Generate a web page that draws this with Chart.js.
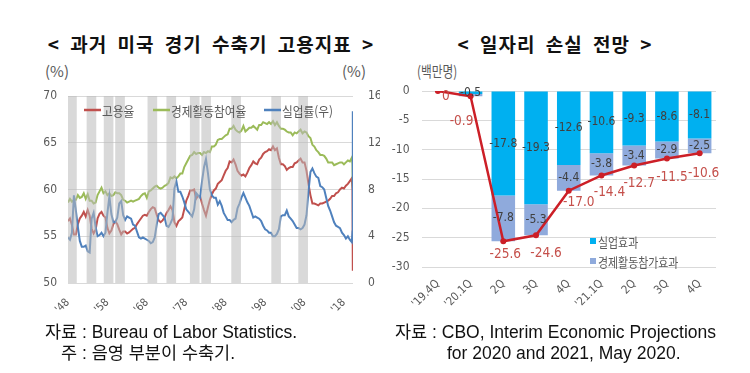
<!DOCTYPE html>
<html><head><meta charset="utf-8">
<script src="https://cdn.jsdelivr.net/npm/chart.js@4"></script>
<style>
body{margin:0;width:750px;height:373px;background:#fff;position:relative;overflow:hidden;font-family:'Noto Sans CJK KR',sans-serif;}
.t{position:absolute;white-space:nowrap;}
.title{font-weight:700;font-size:19px;color:#111;text-align:center;top:31px;line-height:26px;word-spacing:5px;letter-spacing:1px;}
.unit{font-size:15px;color:#595959;top:61px;line-height:20px;}
.note{font-size:17.5px;color:#111;line-height:20px;font-family:'Liberation Sans','Noto Sans CJK KR',sans-serif;}
canvas{position:absolute;top:80px;}
</style></head><body>
<div class="t title" style="left:0;width:422px">&lt; 과거 미국 경기 수축기 고용지표 &gt;</div>
<div class="t title" style="left:380px;width:350px">&lt; 일자리 손실 전망 &gt;</div>
<div class="t unit" style="left:45px">(%)</div>
<div class="t unit" style="left:342px">(%)</div>
<div class="t unit" style="left:417px;transform:scaleX(0.78);transform-origin:left">(백만명)</div>
<canvas id="c1" width="380" height="245" style="left:0"></canvas>
<canvas id="c2" width="370" height="245" style="left:380px"></canvas>
<div class="t note" style="left:45px;top:322px">자료 : Bureau of Labor Statistics.</div>
<div class="t note" style="left:61px;top:343px">주 : 음영 부분이 수축기.</div>
<div class="t note" style="left:395px;top:322px">자료 : CBO, Interim Economic Projections</div>
<div class="t note" style="left:447px;top:343px">for 2020 and 2021, May 2020.</div>
<script>
// ---------- Left chart data (semi-annual, 1948H1 .. 2020H1, then Mar & Apr 2020) ----------
const empRate = [
56.6,56.9, 56.2,55.2, 55.2,56.3, 56.9,57.2, 57.6,57.1, 57.8,57.2, 55.8,55.3, 55.7,56.9, 57.4,57.6, 57.2,57.0,
55.9,55.3, 55.6,56.3, 56.6,56.3, 55.7,55.2, 55.5,55.5, 55.3,55.4, 55.6,55.8, 55.9,56.3, 56.6,56.9, 57.2,57.3,
57.2,57.6, 57.9,58.1, 58.0,57.3, 56.7,56.5, 56.7,57.0, 57.5,57.8, 58.2,57.8, 56.5,56.1, 56.6,56.8, 57.0,57.9,
58.8,59.3, 59.9,59.9, 60.0,59.0, 59.3,59.3, 58.5,57.8, 57.2,58.1, 58.9,59.5, 59.9,60.1, 60.6,60.8, 61.0,61.5,
62.0,62.3, 63.0,62.9, 63.2,62.7, 62.0,61.7, 61.5,61.6, 61.4,61.8, 62.3,62.6, 63.0,62.8, 62.7,63.2, 63.4,63.8,
64.0,64.1, 64.3,64.2, 64.6,64.2, 64.4,63.4, 62.7,62.7, 62.5,62.1, 62.3,62.4, 62.4,62.8, 62.9,63.1, 63.3,62.9,
62.9,62.0, 60.6,59.4, 58.5,58.5, 58.4,58.3, 58.5,58.5, 58.6,58.7, 58.8,59.0, 59.3,59.3, 59.6,59.7, 60.0,60.2,
60.1,60.4, 60.6,60.9, 61.2, 60.0, 51.3];
const partRate = [
58.6,59.0, 58.7,58.9, 58.9,59.4, 59.1,59.2, 59.6,59.0, 59.5,58.8, 58.8,58.5, 58.6,59.4, 59.8,60.2, 59.6,59.8,
59.4,59.6, 59.3,59.4, 59.7,59.6, 59.6,59.4, 58.9,58.8, 58.6,58.7, 58.8,58.7, 58.8,58.9, 59.0,59.3, 59.5,59.6,
59.1,59.8, 59.9,60.1, 60.3,60.4, 60.2,60.1, 60.2,60.4, 60.5,60.7, 61.3,61.2, 61.4,61.2, 61.4,61.7, 61.7,62.4,
62.8,63.2, 63.6,63.7, 64.0,63.8, 63.9,63.9, 63.7,64.0, 63.9,64.1, 64.0,64.6, 64.6,64.8, 65.3,65.4, 65.4,65.6,
65.8,65.9, 66.5,66.5, 66.8,66.4, 66.2,66.1, 66.3,66.8, 66.2,66.4, 66.6,66.6, 66.8,66.6, 66.4,66.9, 66.9,67.2,
67.1,67.0, 67.2,67.0, 67.3,66.9, 67.2,66.8, 66.5,66.5, 66.4,66.2, 66.1,66.1, 65.8,66.1, 66.0,66.2, 66.4,66.0,
66.2,66.1, 65.7,65.5, 64.8,64.6, 64.2,64.0, 63.7,63.7, 63.6,63.3, 62.9,62.9, 62.9,62.6, 62.7,62.8, 62.9,62.9,
62.7,62.9, 63.1,63.0, 63.4, 62.7, 60.2];
const unempRate = [
3.9,3.7, 4.3,7.5, 6.2,4.8, 3.6,3.1, 3.1,3.2, 2.7,2.6, 5.5,6.0, 4.8,4.0, 4.1,4.3, 4.0,4.3,
6.0,7.4, 5.9,5.2, 5.2,5.6, 6.8,7.0, 5.8,5.4, 5.7,5.6, 5.5,5.0, 4.9,4.4, 3.9,3.8, 3.9,3.8,
3.7,3.6, 3.4,3.5, 3.9,5.0, 5.9,6.0, 5.8,5.6, 4.9,4.8, 5.1,5.5, 8.1,8.7, 7.8,7.8, 7.4,6.9,
6.3,6.1, 5.9,5.7, 6.3,7.7, 7.5,7.3, 8.7,9.9, 10.6,9.4, 8.0,7.5, 7.3,7.3, 6.7,7.0, 6.6,6.0,
5.7,5.4, 5.4,5.2, 5.4,5.5, 6.4,6.8, 7.3,7.7, 7.3,6.9, 6.6,6.1, 5.6,5.7, 5.6,5.5, 5.3,4.9,
4.6,4.5, 4.3,4.3, 4.0,4.0, 4.2,4.6, 5.7,5.8, 5.8,6.2, 5.7,5.5, 5.3,5.0, 4.7,4.7, 4.6,4.7,
5.0,5.8, 7.8,9.5, 9.8,9.4, 9.1,9.0, 8.3,8.2, 8.0,7.3, 6.6,6.2, 5.7,5.2, 4.9,4.8, 4.7,4.3,
4.1,3.8, 4.0,3.7, 3.5, 4.4, 14.7];
// time index: half years 1948.0 .. 2020.0, then March and April 2020
const periods = [];
for (let k = 0; k <= 144; k++) periods.push(1948 + k / 2);
periods.push(2020 + 2 / 12, 2020 + 3 / 12);
// recession shading (centre year of each shaded band)
const recessions = [1949.0, 1953.95, 1958.3, 1961.2, 1969.4, 1974.2, 1980.15, 1983.05, 1990.65, 2000.8, 2007.65];
const xTickYears = [1948, 1958, 1968, 1978, 1988, 1998, 2008, 2018];
const leftNames = ['고용율', '경제활동참여율', '실업률(우)'];

// ---------- Right chart data ----------
const quarters = ["'19.4Q", "'20.1Q", "2Q", "3Q", "4Q", "'21.1Q", "2Q", "3Q", "4Q"];
const unempEffect = [0, -0.5, -17.8, -19.3, -12.6, -10.6, -9.3, -8.6, -8.1];
const partEffect = [0, -0.4, -7.8, -5.3, -4.4, -3.8, -3.4, -2.9, -2.5];
const totalLoss = [0, -0.9, -25.6, -24.6, -17.0, -14.4, -12.7, -11.5, -10.6];
const rightNames = ['실업효과', '경제활동참가효과', '합계'];

const NARROW = "'DejaVu Sans Condensed','Liberation Sans',sans-serif";
const GREY = '#595959';

const pts = arr => periods.map((p, i) => ({ x: p, y: arr[i] }));
const noVPad = s => { s.paddingTop = 0; s.paddingBottom = 0; };

const leftLegend = {
  id: 'leftLegend',
  afterDatasetsDraw(chart, args, o) {
    const ctx = chart.ctx; ctx.save();
    ctx.font = o.font; ctx.textBaseline = 'middle';
    o.items.forEach(it => {
      const ds = chart.data.datasets[it.ds];
      ctx.strokeStyle = ds.borderColor; ctx.lineWidth = 2.5;
      ctx.beginPath(); ctx.moveTo(it.x, o.y); ctx.lineTo(it.x + o.lineLen, o.y); ctx.stroke();
      ctx.fillStyle = o.color;
      ctx.save(); ctx.translate(it.x + o.lineLen + 1, o.y + 1); ctx.scale(o.sx, 1);
      ctx.fillText(ds.label, 0, 0); ctx.restore();
    });
    ctx.restore();
  }
};

new Chart(document.getElementById('c1'), {
  type: 'line',
  data: {
    datasets: [
      { type: 'bar', label: 'recession', data: recessions.map(r => ({ x: r, y: [50, 70] })),
        backgroundColor: 'rgba(185,185,185,0.55)', barThickness: 9, yAxisID: 'y', order: 0 },
      { label: leftNames[2], data: pts(unempRate), yAxisID: 'y1', borderColor: '#4f81bd', backgroundColor: '#4f81bd',
        borderWidth: 2, pointRadius: 0, tension: 0, order: 1 },
      { label: leftNames[1], data: pts(partRate), yAxisID: 'y', borderColor: '#9bbb59', backgroundColor: '#9bbb59',
        borderWidth: 2, pointRadius: 0, tension: 0, order: 2 },
      { label: leftNames[0], data: pts(empRate), yAxisID: 'y', borderColor: '#c0504d', backgroundColor: '#c0504d',
        borderWidth: 2, pointRadius: 0, tension: 0, order: 3 }
    ]
  },
  options: {
    responsive: false, animation: false, devicePixelRatio: 1,
    layout: { padding: { top: 16, left: 0, right: 0, bottom: 0 } },
    plugins: {
      legend: { display: false }, tooltip: { enabled: false },
      leftLegend: { y: 30, lineLen: 17, font: "13px 'Noto Sans CJK KR'", color: GREY, sx: 0.9,
        items: [{ ds: 3, x: 84 }, { ds: 2, x: 153 }, { ds: 1, x: 264 }] }
    },
    scales: {
      x: { type: 'linear', min: 1948, max: 2020.3, offset: false,
        afterBuildTicks: s => { s.ticks = xTickYears.map(v => ({ value: v })); },
        afterFit: s => { s.height = 42; },
        ticks: { autoSkip: false, minRotation: 45, maxRotation: 45, padding: 5, color: GREY,
          font: { family: NARROW, size: 11 }, callback: v => "'" + String(v).slice(2) },
        grid: { display: false }, border: { display: false } },
      y: { position: 'left', min: 50, max: 70,
        afterFit: s => { s.width = 68; noVPad(s); },
        ticks: { stepSize: 5, padding: 11, color: GREY, font: { family: NARROW, size: 12 } },
        grid: { color: '#d9d9d9', drawTicks: false }, border: { display: false } },
      y1: { position: 'right', min: 0, max: 16,
        afterFit: s => { s.width = 27; noVPad(s); },
        ticks: { stepSize: 4, padding: 7, color: GREY, font: { family: NARROW, size: 12 } },
        grid: { display: false }, border: { display: false } }
    }
  },
  plugins: [leftLegend]
});

const rightDeco = {
  id: 'rightDeco',
  afterDatasetsDraw(chart, args, o) {
    const ctx = chart.ctx; ctx.save();
    ctx.textAlign = 'center'; ctx.textBaseline = 'middle';
    // bar labels
    ctx.font = o.barFont; ctx.fillStyle = o.barColor;
    [0, 1].forEach(di => {
      const ds = chart.data.datasets[di];
      chart.getDatasetMeta(di).data.forEach((el, i) => {
        const v = ds.data[i];
        if (Math.abs(v) < 0.5) return;
        const p = el.getProps(['x', 'y', 'base'], true);
        ctx.fillText(v.toFixed(1), p.x, (p.y + p.base) / 2);
      });
    });
    // total line labels
    ctx.font = o.lineFont; ctx.fillStyle = o.lineColor;
    const ds = chart.data.datasets[2];
    chart.getDatasetMeta(2).data.forEach((el, i) => {
      const v = ds.data[i];
      const off = o.offsets[i];
      ctx.fillText(v === 0 ? '0' : v.toFixed(1), el.x + off[0], el.y + off[1]);
    });
    // legend
    ctx.textAlign = 'left';
    o.legend.forEach(it => {
      const d = chart.data.datasets[it.ds];
      ctx.fillStyle = d.backgroundColor;
      ctx.fillRect(it.x, it.y - 3, 6, 6);
      ctx.fillStyle = o.legendColor; ctx.font = o.legendFont;
      ctx.save(); ctx.translate(it.x + 8, it.y + 1); ctx.scale(o.sx, 1); ctx.fillText(d.label, 0, 0); ctx.restore();
    });
    ctx.restore();
  }
};

new Chart(document.getElementById('c2'), {
  type: 'bar',
  data: {
    labels: quarters,
    datasets: [
      { label: rightNames[0], data: unempEffect, backgroundColor: '#00b0f0', stack: 's', order: 1 },
      { label: rightNames[1], data: partEffect, backgroundColor: '#8faadc', stack: 's', order: 1 },
      { type: 'line', label: rightNames[2], data: totalLoss, borderColor: '#cc1f27', backgroundColor: '#cc1f27',
        borderWidth: 2.5, pointRadius: 3, pointBackgroundColor: '#cc1f27', pointBorderWidth: 0, tension: 0, order: 0 }
    ]
  },
  options: {
    responsive: false, animation: false, devicePixelRatio: 1,
    layout: { padding: { top: 11, left: 0, right: 34, bottom: 0 } },
    plugins: {
      legend: { display: false }, tooltip: { enabled: false },
      rightDeco: {
        barFont: "12px " + NARROW, barColor: '#404040',
        lineFont: "13.5px " + NARROW, lineColor: '#c5504b',
        offsets: [[8, 5], [-9, 25], [2, 13], [10, 18], [10, 12], [8, 17], [5, 18], [5, 19], [4, 20]],
        legendFont: "13px 'Noto Sans CJK KR'", legendColor: GREY, sx: 0.84,
        legend: [{ ds: 0, x: 210, y: 161 }, { ds: 1, x: 210, y: 181 }]
      }
    },
    scales: {
      x: { stacked: true,
        afterFit: s => { s.height = 58; },
        ticks: { autoSkip: false, minRotation: 45, maxRotation: 45, padding: 2, color: GREY,
          font: { family: NARROW, size: 11.5 } },
        grid: { display: false }, border: { display: false } },
      y: { stacked: true, min: -30, max: 0,
        afterFit: s => { s.width = 41.5; noVPad(s); },
        ticks: { stepSize: 5, padding: 12, color: GREY, font: { family: NARROW, size: 12 } },
        grid: { color: '#d9d9d9', drawTicks: false }, border: { display: false } }
    }
  },
  plugins: [rightDeco]
});
</script>
</body></html>
